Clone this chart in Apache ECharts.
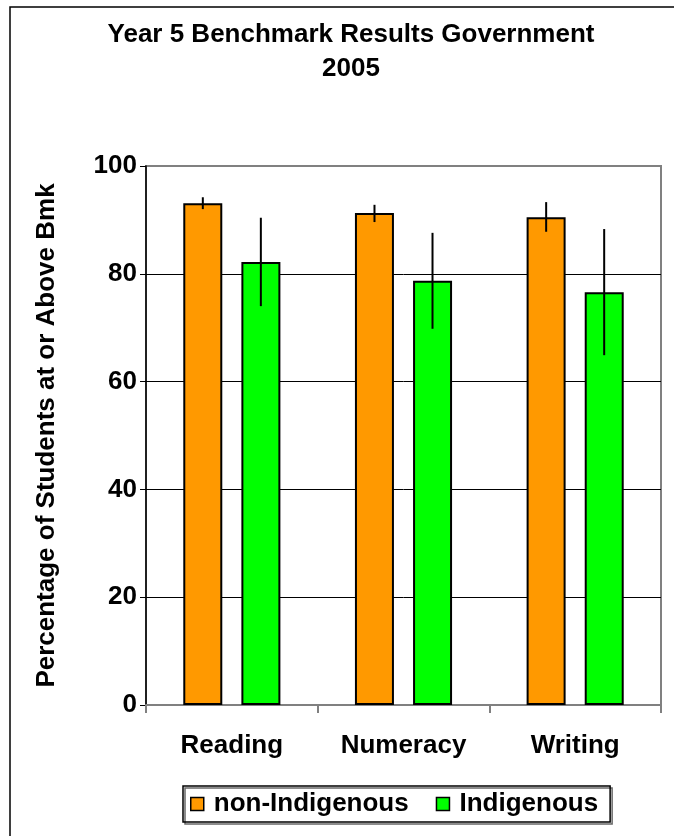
<!DOCTYPE html>
<html>
<head>
<meta charset="utf-8">
<script src="https://cdn.jsdelivr.net/npm/echarts@6/dist/echarts.min.js"></script>
<style>html,body{margin:0;padding:0;background:#fff}#c{width:674px;height:836px}</style>
</head>
<body>
<div id="c"></div>
<script>
var categories = ['Reading', 'Numeracy', 'Writing'];
var yTicks = [0, 20, 40, 60, 80, 100];
var nonIndigenous = [93.1, 91.3, 90.5];
var nonIndigenousLow = [92.0, 89.6, 87.8];
var nonIndigenousHigh = [94.2, 92.8, 93.3];
var indigenous = [82.2, 78.7, 76.6];
var indigenousLow = [74.0, 69.8, 64.9];
var indigenousHigh = [90.4, 87.6, 88.3];

var FONT = 'Liberation Sans, Arial, sans-serif';
var FS = 26;
var chart = echarts.init(document.getElementById('c'), null, {renderer: 'canvas'});

function errData(low, high) {
  return categories.map(function (c, i) { return [i, low[i], high[i]]; });
}
function errRender(offsetFrac) {
  return function (params, api) {
    var i = api.value(0);
    var band = api.size([1, 0])[0];
    var lo = api.coord([i, api.value(1)]);
    var hi = api.coord([i, api.value(2)]);
    var x = lo[0] + band * offsetFrac;
    return {
      type: 'line',
      shape: {x1: x, y1: hi[1], x2: x, y2: lo[1]},
      style: {stroke: '#000', lineWidth: 2}
    };
  };
}

chart.setOption({
  animation: false,
  backgroundColor: '#fff',
  title: {
    text: 'Year 5 Benchmark Results Government\n2005',
    left: 346, textAlign: 'center', top: 13,
    textStyle: {fontFamily: FONT, fontWeight: 'bold', fontSize: FS, lineHeight: 34, color: '#000'}
  },
  graphic: [{
    type: 'rect', shape: {x: 10, y: 7, width: 700, height: 900},
    style: {fill: 'none', stroke: '#000', lineWidth: 1.5}, silent: true
  }],
  legend: {
    top: 786, left: 183,
    data: ['non-Indigenous', 'Indigenous'],
    itemWidth: 13, itemHeight: 13, itemGap: 27,
    icon: 'rect',
    borderColor: '#000', borderWidth: 1.5, padding: [5, 12, 5, 7],
    shadowColor: 'rgba(0,0,0,0.6)', shadowOffsetX: 2, shadowOffsetY: 2, shadowBlur: 0,
    textStyle: {fontFamily: FONT, fontWeight: 'bold', fontSize: FS, color: '#000', padding: [0, 0, 0, 5]},
    itemStyle: {borderColor: '#000', borderWidth: 1.5}
  },
  grid: {
    left: 146, top: 166, right: 13, bottom: 131,
    show: true, borderColor: '#808080', borderWidth: 2, backgroundColor: '#fff'
  },
  xAxis: {
    type: 'category', data: categories,
    axisLine: {lineStyle: {color: '#808080', width: 2}},
    axisTick: {show: true, length: 8, lineStyle: {color: '#808080', width: 2}},
    axisLabel: {fontFamily: FONT, fontWeight: 'bold', fontSize: FS, color: '#000', margin: 28}
  },
  yAxis: {
    type: 'value', min: 0, max: 100, interval: 20,
    name: 'Percentage of Students at or Above Bmk',
    nameLocation: 'middle', nameGap: 86, nameRotate: 90,
    nameTextStyle: {fontFamily: FONT, fontWeight: 'bold', fontSize: FS, color: '#000'},
    axisLine: {show: true, lineStyle: {color: '#000', width: 1.5}},
    axisTick: {show: true, length: 6, lineStyle: {color: '#000'}},
    splitLine: {show: true, lineStyle: {color: ['#000', '#000', '#000', '#000', '#000', '#808080'], width: 1}},
    axisLabel: {fontFamily: FONT, fontWeight: 'bold', fontSize: FS, color: '#000', margin: 9,
      formatter: function (v) { return yTicks.indexOf(v) >= 0 ? String(v) : ''; }}
  },
  series: [
    {name: 'non-Indigenous', type: 'bar', data: nonIndigenous, barWidth: 39, barGap: '49%',
      itemStyle: {color: '#FF9900', borderColor: '#000', borderWidth: 2}},
    {name: 'Indigenous', type: 'bar', data: indigenous, barWidth: 39,
      itemStyle: {color: '#00FF00', borderColor: '#000', borderWidth: 2}},
    {type: 'custom', data: errData(nonIndigenousLow, nonIndigenousHigh), renderItem: errRender(-0.169), z: 10,
      encode: {x: 0, y: [1, 2]}},
    {type: 'custom', data: errData(indigenousLow, indigenousHigh), renderItem: errRender(0.169), z: 10,
      encode: {x: 0, y: [1, 2]}}
  ]
});
</script>
</body>
</html>
